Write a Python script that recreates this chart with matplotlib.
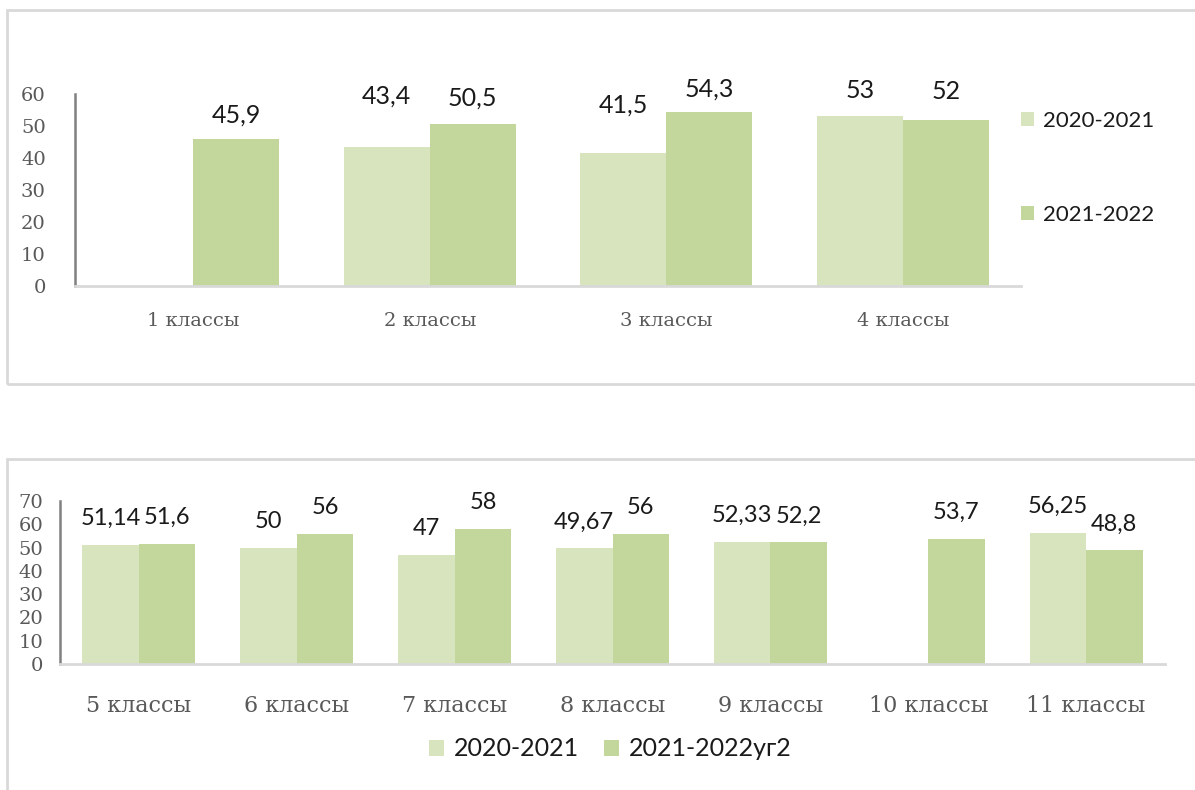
import matplotlib as mpl
mpl.use('Agg')
import matplotlib.pyplot as plt
import matplotlib.patches as patches
import numpy as np

# top chart: 1-4 classes
top_cats = ['1 классы', '2 классы', '3 классы', '4 классы']
top_2020 = [np.nan, 43.4, 41.5, 53]
top_2021 = [45.9, 50.5, 54.3, 52]
top_yticks = [0, 10, 20, 30, 40, 50, 60]

# bottom chart: 5-11 classes
bot_cats = ['5 классы', '6 классы', '7 классы', '8 классы', '9 классы', '10 классы', '11 классы']
bot_2020 = [51.14, 50, 47, 49.67, 52.33, np.nan, 56.25]
bot_2021 = [51.6, 56, 58, 56, 52.2, 53.7, 48.8]
bot_yticks = [0, 10, 20, 30, 40, 50, 60, 70]

top_labels = ['2020-2021', '2021-2022']
bot_labels = ['2020-2021', '2021-2022уг2']

# label offsets above bar tops (points) - labels in the top chart were moved by hand
top_off_2020 = [0, 37, 35, 19]
top_off_2021 = [17, 19, 17, 20]
bot_off = 19

LIGHT = '#d7e4bd'
DARK = '#c3d69b'
SERIF = 'DejaVu Serif'
SANS = 'Lato'


def fmt(v):
    return f'{v:g}'.replace('.', ',')


def style_axes(ax, cats, yticks, tick_pad, cat_pad, cat_size):
    ax.set_xlim(-0.5, len(cats) - 0.5)
    ax.set_ylim(0, yticks[-1])
    ax.set_yticks(yticks)
    ax.set_xticks(range(len(cats)))
    ax.set_xticklabels(cats, family=SERIF, fontsize=cat_size, color='#595959')
    ax.set_yticklabels([str(t) for t in yticks], family=SERIF, fontsize=14, color='#595959')
    ax.tick_params(axis='y', length=0, pad=tick_pad)
    ax.tick_params(axis='x', length=0, pad=cat_pad)
    for s in ['top', 'right']:
        ax.spines[s].set_visible(False)
    ax.spines['left'].set_color('#808080')
    ax.spines['left'].set_linewidth(1.8)
    ax.spines['bottom'].set_color('#d9d9d9')
    ax.spines['bottom'].set_linewidth(2)


def draw_bars(ax, a, b, width, off_a, off_b, size):
    x = np.arange(len(a))
    ba = ax.bar(x - width / 2, a, width, color=LIGHT)
    bb = ax.bar(x + width / 2, b, width, color=DARK)
    for i, v in enumerate(a):
        if not np.isnan(v):
            ax.annotate(fmt(v), (x[i] - width / 2, v), xytext=(0, off_a[i]),
                        textcoords='offset points', ha='center', va='center',
                        family=SANS, fontsize=size, color='#1a1a1a', annotation_clip=False)
    for i, v in enumerate(b):
        ax.annotate(fmt(v), (x[i] + width / 2, v), xytext=(0, off_b[i]),
                    textcoords='offset points', ha='center', va='center',
                    family=SANS, fontsize=size, color='#1a1a1a', annotation_clip=False)
    return ba, bb


fig = plt.figure(figsize=(11.95, 7.9), dpi=100)
W, H = 1195, 790

# chart frames
fig.patches.append(patches.Rectangle((7 / W, 1 - 384 / H), 1.1, 374 / H, transform=fig.transFigure,
                                     fill=False, edgecolor='#d9d9d9', linewidth=2))
fig.patches.append(patches.Rectangle((7 / W, -0.1), 1.1, 0.1 + 1 - 459 / H, transform=fig.transFigure,
                                     fill=False, edgecolor='#d9d9d9', linewidth=2))

ax1 = fig.add_axes([75 / W, 1 - 286 / H, (1021 - 75) / W, (286 - 94) / H])
style_axes(ax1, top_cats, top_yticks, 21, 19, 14)
h1, h2 = draw_bars(ax1, top_2020, top_2021, 0.364, top_off_2020, top_off_2021, 18)
fig.legend([h1, h2], top_labels, loc='center left', bbox_to_anchor=(1001 / W, 1 - 168 / H),
           frameon=False, prop={'family': SANS, 'size': 16}, handlelength=0.6, handleheight=0.6,
           handletextpad=0.4, labelspacing=3.35, labelcolor='#1a1a1a')

ax2 = fig.add_axes([60 / W, 1 - 664 / H, (1165 - 60) / W, (664 - 501) / H])
style_axes(ax2, bot_cats, bot_yticks, 12, 22, 16)
h3, h4 = draw_bars(ax2, bot_2020, bot_2021, 0.358, [bot_off] * 7, [bot_off] * 7, 17)
fig.legend([h3, h4], bot_labels, loc='center', bbox_to_anchor=(610 / W, 1 - 749 / H), ncol=2,
           frameon=False, prop={'family': SANS, 'size': 18}, handlelength=0.6, handleheight=0.6,
           handletextpad=0.4, columnspacing=1.0, labelcolor='#1a1a1a')

plt.savefig('out.png', dpi=100)
